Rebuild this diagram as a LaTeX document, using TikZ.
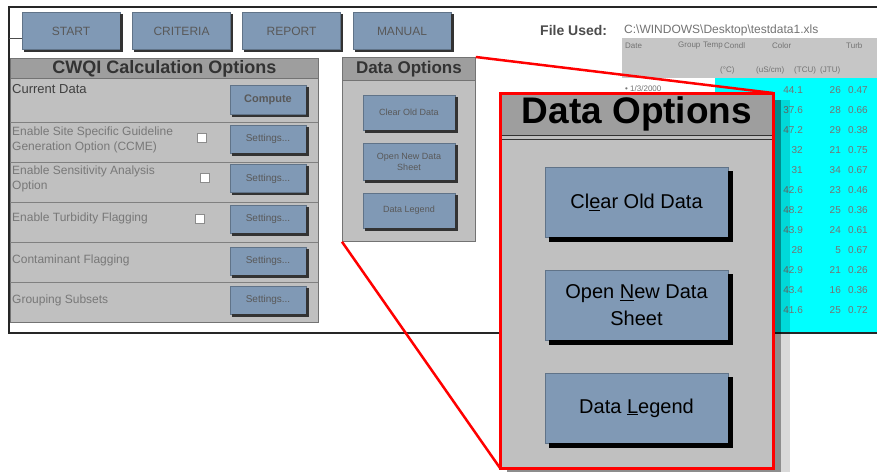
\documentclass[tikz,border=0pt]{standalone}
\usepackage{fontspec}
\setmainfont{Liberation Sans}
\usetikzlibrary{positioning}

\definecolor{btnblue}{RGB}{128,153,181}
\definecolor{panelgray}{RGB}{192,192,192}
\definecolor{titlegray}{RGB}{158,158,158}
\definecolor{tablecyan}{RGB}{0,255,255}
\definecolor{fadetext}{RGB}{120,120,120}

\tikzset{
  panel/.style={fill=panelgray, draw=black!55, line width=0.8pt, inner sep=0pt},
  titlebar/.style={fill=titlegray, draw=black!55, line width=0.8pt, inner sep=0pt, font=\bfseries\fontsize{18}{20}\selectfont, text=black!80},
  btnbase/.style={fill=btnblue, draw=btnblue!75!black, line width=0.5pt, inner sep=0pt, align=center},
  smallbtn/.style={btnbase, font=\fontsize{10}{11}\selectfont, text=black!65},
  bigbtn/.style={btnbase, minimum width=183pt, minimum height=70pt, font=\fontsize{20}{27}\selectfont, text=black},
  btnshade/.style={fill=black!80, draw=none},
  rowlabel/.style={inner sep=0pt, anchor=west, align=left, font=\fontsize{12}{15}\selectfont, text=fadetext},
  chkbox/.style={fill=white, draw=black!45, line width=0.6pt, minimum size=9pt, inner sep=0pt},
  sepline/.style={draw=black!50, line width=0.8pt},
  celltext/.style={inner sep=0pt, font=\fontsize{10}{11}\selectfont, text=black!55},
  headtext/.style={celltext, font=\fontsize{8}{9}\selectfont},
  zoomline/.style={draw=red, line width=2.5pt},
}

\begin{document}
\begin{tikzpicture}[x=1pt,y=-1pt]
\clip (0,0) rectangle (877,471);
\fill[white] (0,0) rectangle (877,471);

% data sheet behind the windows
\fill[panelgray!90!white] (622,38) rectangle (877,78);
\fill[tablecyan] (715,78) rectangle (877,333);
\node[inner sep=0pt, anchor=west, font=\bfseries\fontsize{14}{16}\selectfont, text=black!70] (fileused) at (540,30) {File Used:};
\node[celltext, anchor=west, font=\fontsize{12}{13}\selectfont] (filepath) at (624,30) {C:\textbackslash WINDOWS\textbackslash Desktop\textbackslash testdata1.xls};
\foreach \x/\t in {625/Date,678/Group,703/Temp,724/Condl,772/Color,846/Turb}
  \node[headtext, anchor=west] at (\x,46) {\t};
\foreach \x/\t in {720/{(°C)},756/{(uS/cm)},794/{(TCU)},820/{(JTU)}}
  \node[headtext, anchor=west] at (\x,70) {\t};
\node[headtext, anchor=west] (firstdate) at (625,89) {• 1/3/2000};
\foreach \a/\b/\c [count=\i from 0] in {44.1/26/0.47,37.6/28/0.66,47.2/29/0.38,32/21/0.75,31/34/0.67,42.6/23/0.46,48.2/25/0.36,43.9/24/0.61,28/5/0.67,42.9/21/0.26,43.4/16/0.36,41.6/25/0.72} {
  \node[celltext, anchor=east] at (803,90+20*\i) {\a};
  \node[celltext, anchor=east] at (841,90+20*\i) {\b};
  \node[celltext, anchor=west] at (848,90+20*\i) {\c};
}

% screen frame
\draw[line width=2.5pt, black!85] (877,7) -- (9,7) -- (9,333) -- (877,333);
\draw[line width=1pt, black!70] (9,38) -- (22,38);

% top buttons
\foreach \x/\t/\n in {71/START/start,181.5/CRITERIA/criteria,291.5/REPORT/report,402/MANUAL/manual}
  \node[smallbtn, minimum width=98pt, minimum height=37pt, font=\fontsize{12}{13}\selectfont] (\n) at (\x,31) {\t};

% CWQI calculation options
\node[panel, minimum width=308pt, minimum height=264pt, anchor=north west] (cwqi) at (10,58) {};
\node[titlebar, minimum width=308pt, minimum height=20pt, anchor=north west] (cwqititle) at (cwqi.north west) {CWQI Calculation Options};
\foreach \y in {122,162,202,242,282}
  \draw[sepline] (10,\y) -- (318,\y);
\node[rowlabel, font=\fontsize{13}{15}\selectfont, text=black!75] (lblcur) at (12,89) {Current Data};
\node[rowlabel] (lblsite) at (12,140) {Enable Site Specific Guideline\\Generation Option (CCME)};
\node[rowlabel] (lblsens) at (12,179) {Enable Sensitivity Analysis\\Option};
\node[rowlabel] (lblturb) at (12,218) {Enable Turbidity Flagging};
\node[rowlabel] (lblcont) at (12,260) {Contaminant Flagging};
\node[rowlabel] (lblgroup) at (12,300) {Grouping Subsets};
\node[chkbox] (chksite) at (202,138) {};
\node[chkbox] (chksens) at (205,178) {};
\node[chkbox] (chkturb) at (200,219) {};
\node[smallbtn, minimum width=76pt, minimum height=29pt, font=\bfseries\fontsize{11}{12}\selectfont] (compute) at (268,100) {Compute};
\foreach \y/\n in {139/site,178.5/sens,219/turb,261/cont,300/group}
  \node[smallbtn, minimum width=76pt, minimum height=28pt] (set\n) at (268,\y) {Settings...};

% small data options window
\node[panel, minimum width=133pt, minimum height=184pt, anchor=north west] (smallopt) at (342,57) {};
\node[titlebar, minimum width=133pt, minimum height=23pt, anchor=north west, font=\bfseries\fontsize{17}{19}\selectfont] (smalltitle) at (smallopt.north west) {Data Options};
\node[smallbtn, minimum width=92pt, minimum height=35pt, font=\fontsize{9}{11}\selectfont] (smallclear) at (409,112.5) {Clear Old Data};
\node[smallbtn, minimum width=92pt, minimum height=37pt, font=\fontsize{9}{11}\selectfont] (smallopen) at (409,161.5) {Open New Data\\Sheet};
\node[smallbtn, minimum width=92pt, minimum height=35pt, font=\fontsize{9}{11}\selectfont] (smalllegend) at (409,210.5) {Data Legend};

% button shadows, right and bottom edge
\foreach \n in {start,criteria,report,manual,compute,setsite,setsens,setturb,setcont,setgroup,smallclear,smallopen,smalllegend} {
  \fill[btnshade] ([yshift=-2pt]\n.north east) rectangle ([shift={(2.5pt,-2.5pt)}]\n.south east);
  \fill[btnshade] ([xshift=2pt]\n.south west) rectangle ([shift={(2.5pt,-2.5pt)}]\n.south east);
}

% zoom connectors
\draw[zoomline] (smallopt.north east) -- (773,93) coordinate (bigne);
\draw[zoomline] (smallopt.south west) -- (500,468) coordinate (bigsw);

% enlarged data options window
\fill[black, opacity=0.35] (507,100) rectangle (781,473);
\fill[black, opacity=0.15] (507,100) rectangle (790,478);
\node[panel, minimum width=273pt, minimum height=375pt, anchor=north west] (bigopt) at (500,93) {};
\node[titlebar, minimum width=273pt, minimum height=42pt, anchor=north west, font=\bfseries\fontsize{37}{40}\selectfont, text=black] (bigtitle) at (bigopt.north west) {Data Options};
\draw[line width=1pt, black!80] (bigtitle.south west) -- (bigtitle.south east);
\draw[line width=1pt, black!80] ([yshift=-4pt]bigtitle.south west) -- ([yshift=-4pt]bigtitle.south east);
\node[bigbtn] (bigclear) at (636.5,202) {Cl\underline{e}ar Old Data};
\node[bigbtn] (bigopen) at (636.5,305) {Open \underline{N}ew Data\\Sheet};
\node[bigbtn] (biglegend) at (636.5,408) {Data \underline{L}egend};
\foreach \n in {bigclear,bigopen,biglegend} {
  \fill[black] ([yshift=-4pt]\n.north east) rectangle ([shift={(5pt,-5pt)}]\n.south east);
  \fill[black] ([xshift=4pt]\n.south west) rectangle ([shift={(5pt,-5pt)}]\n.south east);
}
\draw[red, line width=3pt] (bigopt.north west) rectangle (bigopt.south east);
\end{tikzpicture}
\end{document}
